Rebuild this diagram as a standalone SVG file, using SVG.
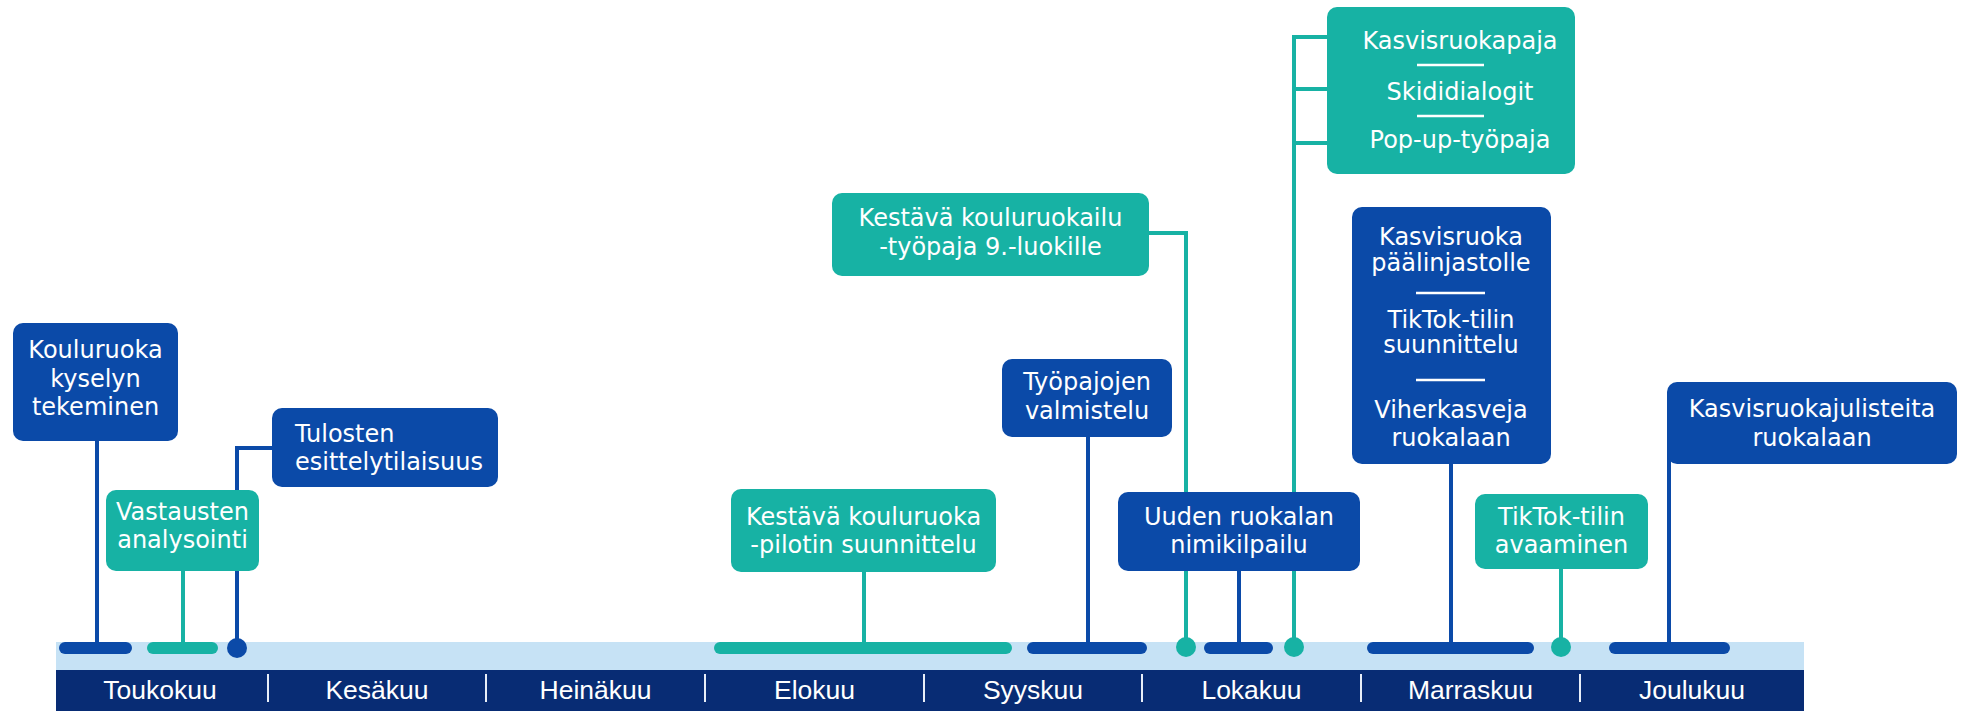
<svg xmlns="http://www.w3.org/2000/svg" width="1964" height="711" viewBox="0 0 1964 711">
<style>
.bg{fill:#ffffff}
.band{fill:#c6e2f5}
.months{fill:#082c74}
.div{stroke:#e8eef8;stroke-width:2}
.mlab{font-family:"Liberation Sans",Arial,sans-serif;font-size:26.5px;fill:#ffffff;text-anchor:middle}
.blue{fill:#0b4aa8}
.teal{fill:#17b2a4}
.cb{stroke:#0b4aa8;stroke-width:4;fill:none}
.ct{stroke:#17b2a4;stroke-width:4;fill:none}
.t{font-family:"DejaVu Sans",Verdana,sans-serif;font-size:24px;fill:#ffffff;text-anchor:middle}
.tl{text-anchor:start}
.sep{stroke:#ffffff;stroke-width:2.5}
</style>
<rect class="bg" x="0" y="0" width="1964" height="711"/>

<g id="timeline">
<rect class="band" x="56" y="642" width="1748" height="29"/>
<rect class="months" x="56" y="670" width="1748" height="41"/>
<line class="div" x1="268" y1="674" x2="268" y2="702"/>
<line class="div" x1="486" y1="674" x2="486" y2="702"/>
<line class="div" x1="705" y1="674" x2="705" y2="702"/>
<line class="div" x1="924" y1="674" x2="924" y2="702"/>
<line class="div" x1="1142" y1="674" x2="1142" y2="702"/>
<line class="div" x1="1361" y1="674" x2="1361" y2="702"/>
<line class="div" x1="1580" y1="674" x2="1580" y2="702"/>
<text class="mlab" x="160" y="699">Toukokuu</text>
<text class="mlab" x="377" y="699">Kesäkuu</text>
<text class="mlab" x="595.5" y="699">Heinäkuu</text>
<text class="mlab" x="814.5" y="699">Elokuu</text>
<text class="mlab" x="1033" y="699">Syyskuu</text>
<text class="mlab" x="1251.5" y="699">Lokakuu</text>
<text class="mlab" x="1470.5" y="699">Marraskuu</text>
<text class="mlab" x="1692" y="699">Joulukuu</text>
</g>

<g id="connectors">
<path class="cb" d="M97,440 V648"/>
<path class="ct" d="M183,570 V648"/>
<path class="cb" d="M273,448 H237 V648"/>
<path class="ct" d="M864,571 V648"/>
<path class="cb" d="M1088,436 V648"/>
<path class="ct" d="M1148,233 H1186 V648"/>
<path class="cb" d="M1239,571 V648"/>
<path class="ct" d="M1328,37 H1294 V648 M1294,89 H1328 M1294,143 H1328"/>
<path class="cb" d="M1451,463 V648"/>
<path class="ct" d="M1561,568 V648"/>
<path class="cb" d="M1669,440 V648"/>
</g>

<g id="bars">
<rect class="blue" x="59" y="642" width="73" height="12" rx="6"/>
<rect class="teal" x="147" y="642" width="71" height="12" rx="6"/>
<circle class="blue" cx="237" cy="648" r="10"/>
<rect class="teal" x="714" y="642" width="298" height="12" rx="6"/>
<rect class="blue" x="1027" y="642" width="120" height="12" rx="6"/>
<circle class="teal" cx="1186" cy="647" r="10"/>
<rect class="blue" x="1204" y="642" width="69" height="12" rx="6"/>
<circle class="teal" cx="1294" cy="647" r="10"/>
<rect class="blue" x="1367" y="642" width="167" height="12" rx="6"/>
<circle class="teal" cx="1561" cy="647" r="10"/>
<rect class="blue" x="1609" y="642" width="121" height="12" rx="6"/>
</g>

<g id="n-kouluruoka">
<rect class="blue" x="13" y="323" width="165" height="118" rx="10"/>
<text class="t" x="95.5" y="358">Kouluruoka</text>
<text class="t" x="95.5" y="386.5">kyselyn</text>
<text class="t" x="95.5" y="415">tekeminen</text>
</g>

<g id="n-vastausten">
<rect class="teal" x="106" y="490" width="153" height="81" rx="10"/>
<text class="t" x="182.5" y="520">Vastausten</text>
<text class="t" x="182.5" y="548.3">analysointi</text>
</g>

<g id="n-tulosten">
<rect class="blue" x="272" y="408" width="226" height="79" rx="10"/>
<text class="t tl" x="295" y="441.7">Tulosten</text>
<text class="t tl" x="295" y="470">esittelytilaisuus</text>
</g>

<g id="n-pilotti">
<rect class="teal" x="731" y="489" width="265" height="83" rx="10"/>
<text class="t" x="863.5" y="524.7">Kestävä kouluruoka</text>
<text class="t" x="863.5" y="552.5">-pilotin suunnittelu</text>
</g>

<g id="n-tyopaja9">
<rect class="teal" x="832" y="193" width="317" height="83" rx="10"/>
<text class="t" x="990.5" y="226.4">Kestävä kouluruokailu</text>
<text class="t" x="990.5" y="254.5">-työpaja 9.-luokille</text>
</g>

<g id="n-tyopajojen">
<rect class="blue" x="1002" y="359" width="170" height="78" rx="10"/>
<text class="t" x="1087" y="390">Työpajojen</text>
<text class="t" x="1087" y="418.7">valmistelu</text>
</g>

<g id="n-uuden">
<rect class="blue" x="1118" y="492" width="242" height="79" rx="10"/>
<text class="t" x="1239" y="525">Uuden ruokalan</text>
<text class="t" x="1239" y="553">nimikilpailu</text>
</g>

<g id="n-kasvisruokapaja">
<rect class="teal" x="1327" y="7" width="248" height="167" rx="10"/>
<text class="t" x="1460" y="49.3">Kasvisruokapaja</text>
<line class="sep" x1="1417" y1="65" x2="1484" y2="65"/>
<text class="t" x="1460" y="100">Skididialogit</text>
<line class="sep" x1="1417" y1="116" x2="1484" y2="116"/>
<text class="t" x="1460" y="148.3">Pop-up-työpaja</text>
</g>

<g id="n-kasvisruoka">
<rect class="blue" x="1352" y="207" width="199" height="257" rx="10"/>
<text class="t" x="1451" y="245">Kasvisruoka</text>
<text class="t" x="1451" y="271">päälinjastolle</text>
<line class="sep" x1="1416" y1="293" x2="1485" y2="293"/>
<text class="t" x="1451" y="327.5">TikTok-tilin</text>
<text class="t" x="1451" y="352.5">suunnittelu</text>
<line class="sep" x1="1416" y1="380" x2="1485" y2="380"/>
<text class="t" x="1451" y="418">Viherkasveja</text>
<text class="t" x="1451" y="445.5">ruokalaan</text>
</g>

<g id="n-tiktok">
<rect class="teal" x="1475" y="494" width="173" height="75" rx="10"/>
<text class="t" x="1561.5" y="525">TikTok-tilin</text>
<text class="t" x="1561.5" y="553">avaaminen</text>
</g>

<g id="n-julisteet">
<rect class="blue" x="1667" y="382" width="290" height="82" rx="10"/>
<text class="t" x="1812" y="417">Kasvisruokajulisteita</text>
<text class="t" x="1812" y="445.8">ruokalaan</text>
</g>
</svg>
